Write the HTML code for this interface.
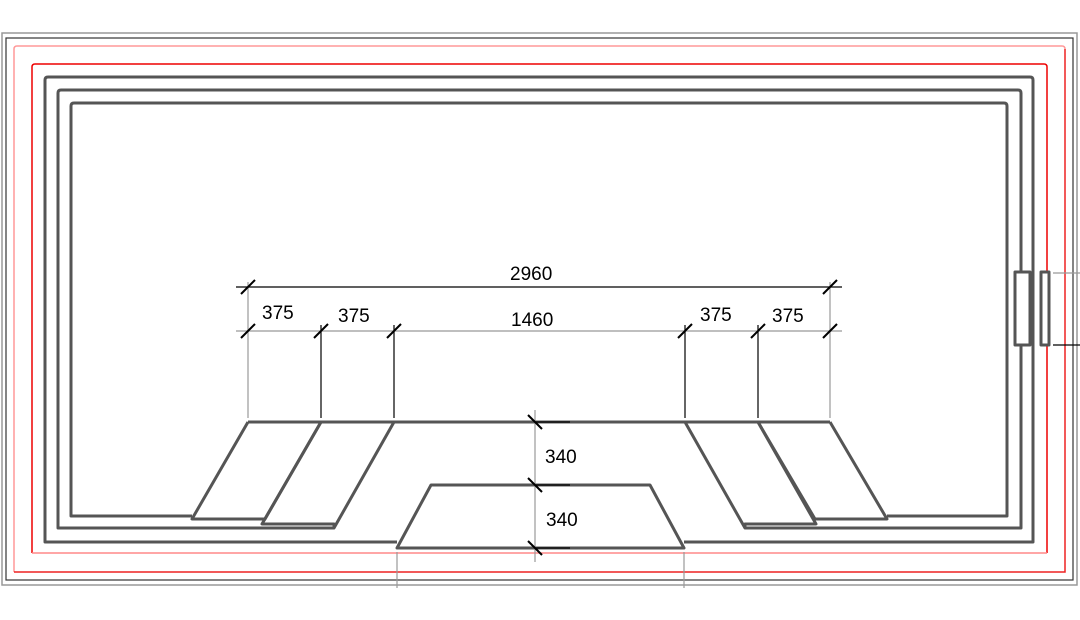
<!DOCTYPE html>
<html><head><meta charset="utf-8"><style>
html,body{margin:0;padding:0;background:#fff;}
svg{display:block;}
text{font-family:"Liberation Sans",sans-serif;font-size:19px;fill:#000;}
</style></head><body>
<svg width="1080" height="620" viewBox="0 0 1080 620" xmlns="http://www.w3.org/2000/svg">
<g fill="none">
<rect x="2" y="33" width="1075" height="552" stroke="#999" stroke-width="1.5"/>
<rect x="6" y="38" width="1067" height="542" stroke="#333" stroke-width="1.2"/>
<g stroke-width="1.5">
<path d="M14,572 L14,49 Q14,46 17,46 L1062,46 Q1065,46 1065,49" stroke="#f99"/>
<path d="M1065,49 L1065,572 L14,572" stroke="#e22"/>
<path d="M32,553 L32,67 Q32,64 35,64 L1044,64 Q1047,64 1047,67 L1047,553" stroke="#e00"/>
<path d="M32,553 L1047,553" stroke="#f88"/>
</g>
<g stroke="#555" stroke-width="3" stroke-linejoin="round">
<path d="M397,542 L45,542 L45,80 Q45,77 48,77 L1030,77 Q1033,77 1033,80 L1033,542 L684,542"/>
<path d="M334,528 L58,528 L58,93 Q58,90 61,90 L1018,90 Q1021,90 1021,93 L1021,528 L745,528"/>
<path d="M192,516 L71,516 L71,106 Q71,103 74,103 L1004,103 Q1007,103 1007,106 L1007,516 L887,516"/>
<path d="M248,422 L830,422"/>
<path d="M248,422 L192,519 L265,519 L321,422"/>
<path d="M321,422 L262,524 L334,524 L334,528 L394,422"/>
<path d="M830,422 L887,519 L815,519 L758,422"/>
<path d="M758,422 L816,524 L745,524 L745,528 L685,422"/>
<path d="M431,485 L650,485 L684,548 L397,548 Z"/>
<rect x="1015" y="272" width="15" height="73" fill="#fff"/>
<rect x="1041" y="272" width="8" height="73" fill="#fff"/>
</g>
<g stroke="#999" stroke-width="1.2">
<line x1="1053" y1="273" x2="1080" y2="273"/>
<line x1="248" y1="282" x2="248" y2="418"/>
<line x1="830" y1="282" x2="830" y2="418"/>
<line x1="236" y1="331" x2="842" y2="331"/>
<line x1="535" y1="410" x2="535" y2="562"/>
<line x1="397" y1="552" x2="397" y2="588"/>
<line x1="684" y1="552" x2="684" y2="588"/>
</g>
<g stroke="#000" stroke-width="1.2">
<line x1="1053" y1="345" x2="1080" y2="345"/>
<line x1="236" y1="287" x2="842" y2="287"/>
<line x1="321" y1="325" x2="321" y2="418"/>
<line x1="394" y1="325" x2="394" y2="418"/>
<line x1="685" y1="325" x2="685" y2="418"/>
<line x1="758" y1="325" x2="758" y2="418"/>
<line x1="535" y1="422" x2="570" y2="422"/>
<line x1="535" y1="485" x2="570" y2="485"/>
<line x1="535" y1="548" x2="570" y2="548"/>
</g>
<g stroke="#000" stroke-width="2">
<line x1="241" y1="294" x2="255" y2="280"/>
<line x1="823" y1="294" x2="837" y2="280"/>
<line x1="241" y1="338" x2="255" y2="324"/>
<line x1="314" y1="338" x2="328" y2="324"/>
<line x1="387" y1="338" x2="401" y2="324"/>
<line x1="678" y1="338" x2="692" y2="324"/>
<line x1="751" y1="338" x2="765" y2="324"/>
<line x1="823" y1="338" x2="837" y2="324"/>
<line x1="528" y1="415" x2="542" y2="429"/>
<line x1="528" y1="478" x2="542" y2="492"/>
<line x1="528" y1="541" x2="542" y2="555"/>
</g>
</g>
<text x="510" y="280">2960</text>
<text x="262" y="319">375</text>
<text x="338" y="322">375</text>
<text x="511" y="326">1460</text>
<text x="700" y="321">375</text>
<text x="772" y="322">375</text>
<text x="545" y="463">340</text>
<text x="546" y="526">340</text>
</svg>
</body></html>
